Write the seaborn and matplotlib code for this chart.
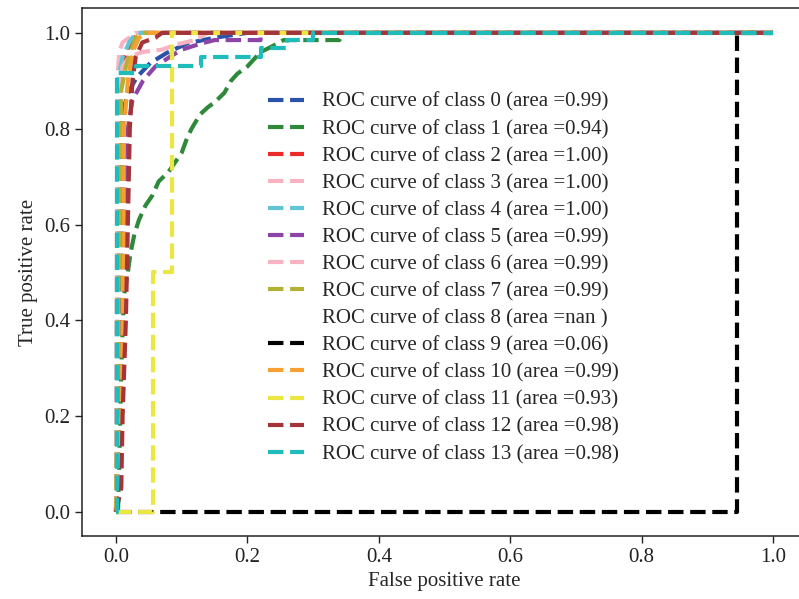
import numpy as np
import pandas as pd
import matplotlib
matplotlib.use("Agg")
import matplotlib.pyplot as plt
import seaborn as sns

classes = list(range(14))
areas = ["0.99", "0.94", "1.00", "1.00", "1.00", "0.99", "0.99", "0.99", "nan ", "0.06", "0.99", "0.93", "0.98", "0.98"]
colors = ["#2a52a8", "#2e8a3a", "#ec2a2a", "#f7b3c2", "#5fc6d6", "#8e44a6", "#f7b3c2", "#b3b035",
          "none", "#000000", "#f5a030", "#ece642", "#a3353a", "#20bcbc"]

fpr0 = [0, 0.005, 0.008, 0.010, 0.013, 0.020, 0.032, 0.052, 0.077, 0.108, 0.15, 0.2, 1]
tpr0 = [0, 0.30, 0.60, 0.80, 0.85, 0.88, 0.908, 0.937, 0.958, 0.978, 0.99, 1.0, 1]
fpr1 = [0, 0.003, 0.005, 0.008, 0.012, 0.018, 0.022, 0.028, 0.035, 0.045, 0.055, 0.065, 0.08, 0.09, 0.10,
        0.108, 0.115, 0.128, 0.14, 0.15, 0.165, 0.175, 0.185, 0.20, 0.21, 0.22, 0.235, 0.255, 0.34, 0.345, 1]
tpr1 = [0, 0, 0.10, 0.30, 0.45, 0.50, 0.54, 0.58, 0.61, 0.64, 0.66, 0.69, 0.71, 0.73, 0.75,
        0.78, 0.80, 0.83, 0.845, 0.855, 0.875, 0.90, 0.915, 0.93, 0.945, 0.96, 0.97, 0.985, 0.985, 1.0, 1]
fpr2 = [0, 0.005, 0.010, 0.017, 0.025, 0.035, 1]
tpr2 = [0, 0.85, 0.93, 0.965, 0.985, 1.0, 1]
fpr3 = [0, 0.002, 0.005, 0.010, 0.020, 0.030, 1]
tpr3 = [0, 0.90, 0.96, 0.98, 0.99, 1.0, 1]
fpr4 = [0, 0.003, 0.010, 0.020, 0.030, 1]
tpr4 = [0, 0.90, 0.95, 0.98, 1.0, 1]
fpr5 = [0, 0.008, 0.012, 0.018, 0.025, 0.041, 0.06, 0.082, 0.10, 0.13, 0.15, 0.22, 0.22, 1]
tpr5 = [0, 0.30, 0.60, 0.80, 0.86, 0.90, 0.93, 0.95, 0.965, 0.978, 0.985, 0.985, 1.0, 1]
fpr6 = [0, 0.003, 0.010, 0.020, 0.040, 0.070, 0.090, 0.12, 0.14, 1]
tpr6 = [0, 0.85, 0.93, 0.95, 0.96, 0.965, 0.975, 0.985, 1.0, 1]
fpr7 = [0, 0.006, 0.008, 0.015, 0.022, 0.030, 0.040, 1]
tpr7 = [0, 0.70, 0.88, 0.93, 0.96, 0.99, 1.0, 1]
fpr8 = []
tpr8 = []
fpr9 = [0, 0.945, 0.945, 1]
tpr9 = [0, 0, 1.0, 1]
fpr10 = [0, 0.008, 0.011, 0.012, 0.018, 0.025, 0.035, 0.05, 1]
tpr10 = [0, 0.20, 0.50, 0.80, 0.90, 0.96, 0.99, 1.0, 1]
fpr11 = [0, 0.057, 0.057, 0.085, 0.085, 1]
tpr11 = [0, 0, 0.50, 0.50, 1.0, 1]
fpr12 = [0, 0.008, 0.010, 0.015, 0.018, 0.021, 0.025, 0.030, 0.040, 0.060, 0.070, 1]
tpr12 = [0, 0.05, 0.20, 0.40, 0.60, 0.80, 0.90, 0.95, 0.98, 0.99, 1.0, 1]
fpr13 = [0, 0.002, 0.002, 0.030, 0.030, 0.13, 0.13, 0.22, 0.22, 0.26, 0.26, 0.30, 0.30, 1]
tpr13 = [0, 0, 0.917, 0.917, 0.93, 0.93, 0.95, 0.95, 0.968, 0.968, 0.985, 0.985, 1.0, 1]

fprs = [fpr0, fpr1, fpr2, fpr3, fpr4, fpr5, fpr6, fpr7, fpr8, fpr9, fpr10, fpr11, fpr12, fpr13]
tprs = [tpr0, tpr1, tpr2, tpr3, tpr4, tpr5, tpr6, tpr7, tpr8, tpr9, tpr10, tpr11, tpr12, tpr13]

sns.set_style("ticks")
plt.rcParams["font.family"] = ["Liberation Serif", "DejaVu Serif"]

FS = 15

fig = plt.figure(figsize=(7.99, 5.99), dpi=100)
ax = fig.add_axes([0.1026, 0.1052, 0.906, 0.8815])

for c, fx, ty, col, ar in zip(classes, fprs, tprs, colors, areas):
    label = "ROC curve of class {0} (area ={1})".format(c, ar)
    if len(fx) == 0:
        ax.plot([], [], linestyle="none", label=label)
        continue
    df = pd.DataFrame({"fpr": fx, "tpr": ty})
    sns.lineplot(data=df, x="fpr", y="tpr", ax=ax, color=col, linestyle="--", linewidth=3,
                 sort=False, estimator=None, label=label)

ax.set_xlim(-0.0518, 1.05)
ax.set_ylim(-0.050, 1.052)
ax.set_xticks([0, 0.2, 0.4, 0.6, 0.8, 1.0])
ax.set_yticks([0, 0.2, 0.4, 0.6, 0.8, 1.0])
ax.tick_params(labelsize=FS, direction="out", length=5, width=1, colors="#222222")
for lab in ax.get_xticklabels() + ax.get_yticklabels():
    lab.set_color("#222222")
ax.set_xlabel("False positive rate", fontsize=FS)
ax.set_ylabel("True positive rate", fontsize=FS)
for s in ["left", "bottom", "top"]:
    ax.spines[s].set_color("#222222")
    ax.spines[s].set_linewidth(1.1)
ax.spines["right"].set_visible(False)

leg = ax.legend(loc="upper left", bbox_to_anchor=(0.246, 0.856), frameon=False, fontsize=FS,
                labelspacing=0.36, handlelength=1.7, handletextpad=0.87, borderaxespad=0)

fig.savefig("out.png", dpi=100)
